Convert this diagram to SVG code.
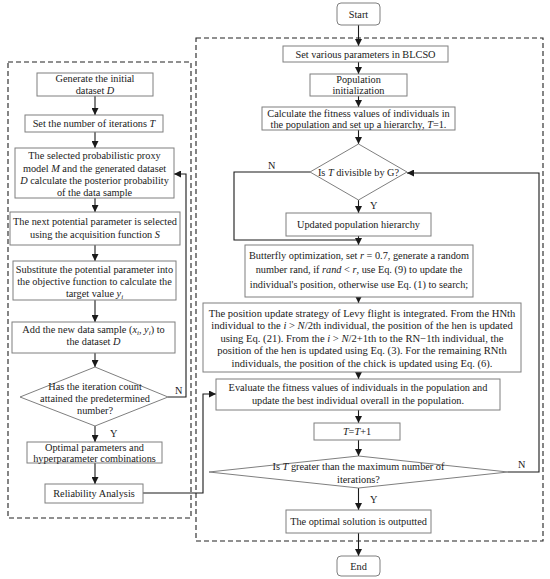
<svg xmlns="http://www.w3.org/2000/svg" width="550" height="579" viewBox="0 0 550 579">
<style>
.bg{fill:#ffffff}
.box{fill:#ffffff;stroke:#7f7f7f;stroke-width:1}
.dash{fill:none;stroke:#222;stroke-width:1.1;stroke-dasharray:5,3}
.ln{fill:none;stroke:#1a1a1a;stroke-width:1.1}
.t{font-family:"Liberation Serif","Times New Roman",serif;font-size:10.3px;fill:#1a1a1a;text-anchor:middle}
.lv{font-size:10.6px}
.l{font-family:"Liberation Serif","Times New Roman",serif;font-size:10.3px;fill:#1a1a1a}
.i{font-style:italic}
</style>
<defs>
<marker id="ah" markerUnits="userSpaceOnUse" markerWidth="8" markerHeight="7" refX="7" refY="3.5" orient="auto">
<path d="M0,0 L7,3.5 L0,7 z" fill="#1a1a1a"/>
</marker>
</defs>
<rect class="bg" x="0" y="0" width="550" height="579"/>
<rect class="dash" x="8" y="62" width="183" height="456"/>
<rect class="dash" x="196" y="38" width="347" height="503"/>

<g id="connectors">
<line class="ln" x1="358.5" y1="25" x2="358.5" y2="46" marker-end="url(#ah)"/>
<line class="ln" x1="358.5" y1="62" x2="358.5" y2="74" marker-end="url(#ah)"/>
<line class="ln" x1="358.5" y1="96" x2="358.5" y2="107" marker-end="url(#ah)"/>
<line class="ln" x1="358.5" y1="130" x2="358.5" y2="144" marker-end="url(#ah)"/>
<line class="ln" x1="358.5" y1="200" x2="358.5" y2="213" marker-end="url(#ah)"/>
<line class="ln" x1="358.5" y1="236" x2="358.5" y2="245" marker-end="url(#ah)"/>
<polyline class="ln" points="310,172 234,172 234,240 358.5,240"/>
<line class="ln" x1="358.5" y1="297" x2="358.5" y2="303" marker-end="url(#ah)"/>
<line class="ln" x1="358.5" y1="372" x2="358.5" y2="379" marker-end="url(#ah)"/>
<line class="ln" x1="358.5" y1="410" x2="358.5" y2="423" marker-end="url(#ah)"/>
<line class="ln" x1="358.5" y1="440" x2="358.5" y2="456" marker-end="url(#ah)"/>
<line class="ln" x1="358.5" y1="488" x2="358.5" y2="510" marker-end="url(#ah)"/>
<line class="ln" x1="358.5" y1="533" x2="358.5" y2="556" marker-end="url(#ah)"/>
<polyline class="ln" points="508,472 539,472 539,173 407,173" marker-end="url(#ah)"/>
<polyline class="ln" points="143,493 203,493 203,394 216,394" marker-end="url(#ah)"/>
<line class="ln" x1="95" y1="96" x2="95" y2="115" marker-end="url(#ah)"/>
<line class="ln" x1="95" y1="132" x2="95" y2="148" marker-end="url(#ah)"/>
<line class="ln" x1="95" y1="198" x2="95" y2="212" marker-end="url(#ah)"/>
<line class="ln" x1="95" y1="245" x2="95" y2="261" marker-end="url(#ah)"/>
<line class="ln" x1="95" y1="300" x2="95" y2="322" marker-end="url(#ah)"/>
<line class="ln" x1="95" y1="353" x2="95" y2="367" marker-end="url(#ah)"/>
<line class="ln" x1="95" y1="426" x2="95" y2="442" marker-end="url(#ah)"/>
<line class="ln" x1="95" y1="463" x2="95" y2="484" marker-end="url(#ah)"/>
<polyline class="ln" points="168,397 186,397 186,174 174,174" marker-end="url(#ah)"/>
<text class="l" x="268" y="169">N</text>
<text class="l" x="370" y="209">Y</text>
<text class="l" x="518" y="468">N</text>
<text class="l" x="370" y="503">Y</text>
<text class="l" x="175" y="394">N</text>
<text class="l" x="110" y="437">Y</text>
</g>

<g id="start">
<rect class="box" x="337" y="3" width="43" height="22" rx="4"/>
<text class="t" x="358.5" y="17.5">Start</text>
</g>
<g id="set-params">
<rect class="box" x="283" y="46" width="165" height="16"/>
<text class="t" x="365.5" y="57.5">Set various parameters in BLCSO</text>
</g>
<g id="pop-init">
<rect class="box" x="310" y="74" width="97" height="22"/>
<text class="t" x="358.5" y="83">Population</text>
<text class="t" x="358.5" y="94">initialization</text>
</g>
<g id="calc-fitness">
<rect class="box" x="262" y="107" width="193" height="23"/>
<text class="t" x="358.5" y="116.5">Calculate the fitness values of individuals in</text>
<text class="t" x="358.5" y="128">the population and set up a hierarchy, <tspan class="i">T</tspan>=1.</text>
</g>
<g id="divisible">
<polygon class="box" points="358.5,144 407,172 358.5,200 310,172"/>
<text class="t" x="358.5" y="175.5">Is <tspan class="i">T</tspan> divisible by G?</text>
</g>
<g id="update-hierarchy">
<rect class="box" x="286" y="213" width="145" height="23"/>
<text class="t" x="358.5" y="228">Updated population hierarchy</text>
</g>
<g id="butterfly">
<rect class="box" x="245" y="245" width="228" height="52"/>
<text class="t" x="359" y="258.5">Butterfly optimization, set <tspan class="i">r</tspan> = 0.7, generate a random</text>
<text class="t" x="359" y="273">number rand, if <tspan class="i">rand</tspan> &lt; <tspan class="i">r</tspan>, use Eq. (9) to update the</text>
<text class="t" x="359" y="287.5">individual's position, otherwise use Eq. (1) to search;</text>
</g>
<g id="levy">
<rect class="box" x="203" y="303" width="318" height="69"/>
<text class="t lv" x="362" y="316.5">The position update strategy of Levy flight is integrated. From the HNth</text>
<text class="t lv" x="362" y="329">individual to the <tspan class="i">i</tspan> &gt; <tspan class="i">N</tspan>/2th individual, the position of the hen is updated</text>
<text class="t lv" x="362" y="341.5">using Eq. (21). From the <tspan class="i">i</tspan> &gt; <tspan class="i">N</tspan>/2+1th to the RN−1th individual, the</text>
<text class="t lv" x="362" y="354">position of the hen is updated using Eq. (3). For the remaining RNth</text>
<text class="t lv" x="362" y="366.5">individuals, the position of the chick is updated using Eq. (6).</text>
</g>
<g id="evaluate">
<rect class="box" x="216" y="379" width="284" height="31"/>
<text class="t" x="358" y="391">Evaluate the fitness values of individuals in the population and</text>
<text class="t" x="358" y="404">update the best individual overall in the population.</text>
</g>
<g id="increment">
<rect class="box" x="314" y="423" width="86" height="17"/>
<text class="t" x="357" y="435"><tspan class="i">T</tspan>=<tspan class="i">T</tspan>+1</text>
</g>
<g id="max-iter">
<polygon class="box" points="358.5,456 508,472 358.5,488 209,472"/>
<text class="t" x="358.5" y="470">Is <tspan class="i">T</tspan> greater than the maximum number of</text>
<text class="t" x="358.5" y="483">iterations?</text>
</g>
<g id="optimal-solution">
<rect class="box" x="286" y="510" width="145" height="23"/>
<text class="t" x="358.5" y="525">The optimal solution is outputted</text>
</g>
<g id="end">
<rect class="box" x="337" y="556" width="43" height="20" rx="4"/>
<text class="t" x="358.5" y="569.5">End</text>
</g>

<g id="gen-dataset">
<rect class="box" x="37" y="73" width="116" height="23"/>
<text class="t" x="95" y="82">Generate the initial</text>
<text class="t" x="95" y="94">dataset <tspan class="i">D</tspan></text>
</g>
<g id="set-iterations">
<rect class="box" x="25" y="115" width="138" height="17"/>
<text class="t" x="94" y="127">Set the number of iterations <tspan class="i">T</tspan></text>
</g>
<g id="proxy-model">
<rect class="box" x="15" y="148" width="159" height="50"/>
<text class="t" x="94.5" y="159">The selected probabilistic proxy</text>
<text class="t" x="94.5" y="171.5">model <tspan class="i">M</tspan> and the generated dataset</text>
<text class="t" x="94.5" y="184"><tspan class="i">D</tspan> calculate the posterior probability</text>
<text class="t" x="94.5" y="196">of the data sample</text>
</g>
<g id="acquisition">
<rect class="box" x="10" y="212" width="170" height="33"/>
<text class="t" x="95" y="225">The next potential parameter is selected</text>
<text class="t" x="95" y="238">using the acquisition function <tspan class="i">S</tspan></text>
</g>
<g id="substitute">
<rect class="box" x="13" y="261" width="163" height="39"/>
<text class="t" x="94.5" y="272.5">Substitute the potential parameter into</text>
<text class="t" x="94.5" y="285">the objective function to calculate the</text>
<text class="t" x="94.5" y="297">target value <tspan class="i">y</tspan><tspan class="i" font-size="7" dy="2">i</tspan></text>
</g>
<g id="add-sample">
<rect class="box" x="12" y="322" width="163" height="31"/>
<text class="t" x="93.5" y="333">Add the new data sample (<tspan class="i">x</tspan><tspan class="i" font-size="7" dy="2">i</tspan><tspan dy="-2">, </tspan><tspan class="i">y</tspan><tspan class="i" font-size="7" dy="2">i</tspan><tspan dy="-2">) to</tspan></text>
<text class="t" x="93.5" y="345">the dataset <tspan class="i">D</tspan></text>
</g>
<g id="iter-check">
<polygon class="box" points="95,367 168,397 95,426 20,397"/>
<text class="t" x="95" y="390">Has the iteration count</text>
<text class="t" x="95" y="402">attained the predetermined</text>
<text class="t" x="95" y="414">number?</text>
</g>
<g id="optimal-params">
<rect class="box" x="27" y="442" width="135" height="21"/>
<text class="t" x="94.5" y="451">Optimal parameters and</text>
<text class="t" x="94.5" y="462">hyperparameter combinations</text>
</g>
<g id="reliability">
<rect class="box" x="45" y="484" width="98" height="19"/>
<text class="t" x="94" y="497">Reliability Analysis</text>
</g>
</svg>
